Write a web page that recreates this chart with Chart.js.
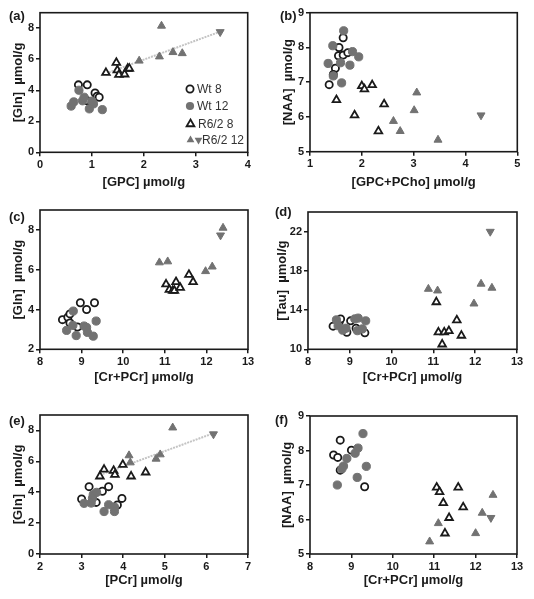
<!DOCTYPE html>
<html>
<head>
<meta charset="utf-8">
<script src="https://cdn.jsdelivr.net/npm/chart.js@4.4.0/dist/chart.umd.min.js"></script>
<style>
  body { margin: 0; background: #fff; width: 534px; height: 599px; position: relative; overflow: hidden;
         font-family: "Liberation Sans", Arial, sans-serif; }
  canvas { position: absolute; }
  .tag { position: absolute; font-weight: bold; font-size: 13px; line-height: 14px; color: #1a1a1a; }
</style>
</head>
<body>
<canvas id="chartA" width="265" height="195" style="left:0;top:0"></canvas>
<canvas id="chartB" width="269" height="195" style="left:265px;top:0"></canvas>
<canvas id="chartC" width="265" height="200" style="left:0;top:195px"></canvas>
<canvas id="chartD" width="269" height="200" style="left:265px;top:195px"></canvas>
<canvas id="chartE" width="265" height="204" style="left:0;top:395px"></canvas>
<canvas id="chartF" width="269" height="204" style="left:265px;top:395px"></canvas>
<div class="tag" style="left:9px;top:9px">(a)</div>
<div class="tag" style="left:280px;top:9px">(b)</div>
<div class="tag" style="left:9px;top:210px">(c)</div>
<div class="tag" style="left:275px;top:205px">(d)</div>
<div class="tag" style="left:9px;top:414px">(e)</div>
<div class="tag" style="left:275px;top:413px">(f)</div>
<script>
// (a) [Gln] vs [GPC]
const aWt8 = [[0.74,4.35],[0.91,4.35],[1.06,3.82],[1.1,3.62],[1.14,3.55],[0.91,3.32],[1.0,3.2]];
const aWt12 = [[0.6,2.98],[0.65,3.25],[0.75,4.0],[0.82,3.32],[0.85,3.55],[0.95,2.8],[1.03,3.12],[1.2,2.75],[1.0,3.3]];
const aR8 = [[1.27,5.13],[1.47,5.78],[1.49,5.3],[1.52,5.0],[1.63,5.03],[1.69,5.4],[1.72,5.4]];
const aR12 = [[1.91,5.9],[2.3,6.17],[2.34,8.15],[2.56,6.45],[2.74,6.38]];
const aR12inv = [[3.47,7.76]];
const aTrend = [[1.27,5.08],[3.47,7.78]];

// (b) [NAA] vs [GPC+PCho]
const bWt8 = [[1.37,6.93],[1.49,7.4],[1.56,8.0],[1.55,7.76],[1.64,8.28],[1.64,7.78],[1.73,7.85],[1.45,7.22]];
const bWt12 = [[1.35,7.54],[1.44,8.05],[1.45,7.18],[1.61,6.98],[1.59,7.56],[1.65,8.48],[1.82,7.88],[1.77,7.49],[1.94,7.73]];
const bR8 = [[1.51,6.49],[1.86,6.05],[2.0,6.89],[2.05,6.8],[2.2,6.92],[2.43,6.37],[2.32,5.59]];
const bR12 = [[2.61,5.88],[2.74,5.59],[3.01,6.19],[3.06,6.7],[3.47,5.34]];
const bR12inv = [[4.3,6.05]];

// (c) [Gln] vs [Cr+PCr]
const cWt8 = [[8.54,3.49],[8.67,3.61],[8.72,3.78],[8.72,3.32],[8.9,3.12],[8.97,4.34],[9.12,4.0],[9.31,4.34]];
const cWt12 = [[8.64,2.95],[8.79,3.2],[8.8,3.92],[8.87,2.69],[9.06,3.17],[9.12,3.1],[9.14,2.85],[9.28,2.66],[9.35,3.42]];
const cR8 = [[11.03,5.27],[11.11,5.0],[11.19,4.95],[11.23,4.95],[11.27,5.39],[11.37,5.1],[11.58,5.75],[11.68,5.39]];
const cR12 = [[10.87,6.36],[11.07,6.41],[11.98,5.92],[12.14,6.15],[12.4,8.1]];
const cR12inv = [[12.34,7.73]];

// (d) [Tau] vs [Cr+PCr]
const dWt8 = [[8.6,12.36],[8.75,12.84],[8.78,13.1],[8.93,11.74],[9.02,12.9],[9.15,12.15],[9.36,11.68]];
const dWt12 = [[8.68,13.0],[8.72,12.4],[8.83,11.95],[8.91,12.15],[9.12,13.1],[9.2,13.18],[9.18,11.9],[9.3,12.08],[9.38,12.9]];
const dR8 = [[11.07,14.82],[11.12,11.74],[11.21,10.51],[11.26,11.74],[11.37,11.88],[11.56,12.97],[11.67,11.4]];
const dR12 = [[10.88,16.15],[11.1,15.98],[11.97,14.65],[12.14,16.67],[12.4,16.26]];
const dR12inv = [[12.36,22.0]];

// (e) [Gln] vs [PCr]
const eWt8 = [[3.0,3.56],[3.18,4.36],[3.35,3.34],[3.5,4.06],[3.65,4.36],[3.86,3.17],[3.97,3.6]];
const eWt12 = [[3.06,3.28],[3.23,3.3],[3.26,3.6],[3.28,3.84],[3.36,3.99],[3.54,2.75],[3.65,3.19],[3.79,3.04],[3.79,2.75]];
const eR8 = [[3.44,5.03],[3.54,5.47],[3.77,5.4],[3.8,5.14],[3.99,5.79],[4.19,5.03],[4.54,5.29]];
const eR12 = [[4.14,6.38],[4.17,5.92],[4.79,6.16],[4.89,6.44],[5.19,8.18]];
const eR12inv = [[6.17,7.76]];
const eTrend = [[3.44,5.12],[6.17,7.82]];

// (f) [NAA] vs [Cr+PCr]
const fWt8 = [[8.57,7.87],[8.67,7.8],[8.73,8.3],[9.0,8.01],[8.73,7.43],[9.32,6.95]];
const fWt12 = [[9.28,8.49],[9.16,8.07],[9.09,7.92],[8.89,7.77],[8.81,7.55],[8.77,7.47],[9.36,7.54],[9.14,7.22],[8.66,7.0]];
const fR8 = [[11.06,6.93],[11.13,6.8],[11.22,6.48],[11.36,6.05],[11.26,5.6],[11.58,6.93],[11.7,6.36]];
const fR12 = [[10.89,5.36],[11.1,5.89],[12.0,5.6],[12.16,6.19],[12.42,6.71]];
const fR12inv = [[12.37,6.05]];

// axis ticks
const gpcTicks = [0, 1, 2, 3, 4];
const cholTicks = [1, 2, 3, 4, 5];
const crTicks = [8, 9, 10, 11, 12, 13];
const pcrTicks = [2, 3, 4, 5, 6, 7];
const glnTicks = [0, 2, 4, 6, 8];
const glnTicksC = [2, 4, 6, 8];
const naaTicks = [5, 6, 7, 8, 9];
const tauTicks = [10, 14, 18, 22];

const legendLabels = ['Wt 8', 'Wt 12', 'R6/2 8', 'R6/2 12'];

const FONT = '"Liberation Sans", Arial, sans-serif';
const INK = '#1a1a1a';
const GREY = '#727272';

function pts(arr) {
    return arr.map(p => ({ x: p[0], y: p[1] }));
}

function groups(wt8, wt12, r8, r12, r12inv, trend) {
    const sets = [
        { data: pts(r12inv), pointStyle: 'triangle', rotation: 180, radius: 4.6, backgroundColor: GREY, borderColor: GREY, borderWidth: 1 },
        { data: pts(r12), pointStyle: 'triangle', radius: 4.6, backgroundColor: GREY, borderColor: GREY, borderWidth: 1 },
        { data: pts(r8), pointStyle: 'triangle', radius: 4.4, backgroundColor: '#fff', borderColor: INK, borderWidth: 1.8 },
        { data: pts(wt12), pointStyle: 'circle', radius: 4.1, backgroundColor: GREY, borderColor: GREY, borderWidth: 1 },
        { data: pts(wt8), pointStyle: 'circle', radius: 3.6, backgroundColor: '#fff', borderColor: INK, borderWidth: 1.8 }
    ];
    if (trend) {
        sets.push({
            type: 'line', data: pts(trend), borderColor: '#c4c4c4', borderWidth: 2,
            borderDash: [2, 1], pointRadius: 0, fill: false
        });
    }
    return sets;
}

// draws the full frame round the plot area
const boxPlugin = {
    id: 'box',
    afterDatasetsDraw(chart) {
        const { ctx, chartArea: a } = chart;
        ctx.save();
        ctx.strokeStyle = INK;
        ctx.lineWidth = 1.6;
        ctx.strokeRect(a.left, a.top, a.right - a.left, a.bottom - a.top);
        ctx.restore();
    }
};

// legend inside panel (a)
const legendPlugin = {
    id: 'innerLegend',
    afterDraw(chart) {
        const ctx = chart.ctx;
        const rows = [89, 106, 124, 140];
        ctx.save();
        ctx.font = '12px ' + FONT;
        ctx.textBaseline = 'middle';
        ctx.fillStyle = '#333';
        legendLabels.forEach((label, i) => {
            const y = rows[i];
            ctx.beginPath();
            if (i < 2) {
                ctx.arc(190, y, i === 0 ? 3.6 : 4.1, 0, Math.PI * 2);
            } else {
                tri(ctx, 190.5, y, 4.5, false);
            }
            if (i === 0 || i === 2) {
                ctx.fillStyle = '#fff';
                ctx.fill();
                ctx.lineWidth = 1.8;
                ctx.strokeStyle = INK;
                ctx.stroke();
            } else {
                ctx.fillStyle = GREY;
                ctx.fill();
            }
            let tx = 197;
            if (i === 2) tx = 198;
            if (i === 3) {
                ctx.beginPath();
                tri(ctx, 198.5, y, 4.5, true);
                ctx.fillStyle = GREY;
                ctx.fill();
                tx = 202;
            }
            ctx.fillStyle = '#333';
            ctx.fillText(label, tx, y + 0.5);
        });
        ctx.restore();
    }
};

function tri(ctx, x, y, r, down) {
    const s = down ? -1 : 1;
    ctx.moveTo(x, y - s * r);
    ctx.lineTo(x + Math.sin(Math.PI * 2 / 3) * r, y + s * r / 2);
    ctx.lineTo(x - Math.sin(Math.PI * 2 / 3) * r, y + s * r / 2);
    ctx.closePath();
}

function axis(range, tickList, title, extra) {
    return Object.assign({
        type: 'linear',
        min: range[0],
        max: range[1],
        afterBuildTicks: (s) => { s.ticks = tickList.map(v => ({ value: v })); },
        grid: { drawOnChartArea: false, drawTicks: true, tickLength: 4, color: INK, lineWidth: 1.5 },
        border: { display: false },
        ticks: { color: INK, padding: 2, autoSkip: false, maxRotation: 0, font: { family: FONT, size: 11, weight: 'bold' } },
        title: { display: true, text: title, color: INK, font: { family: FONT, size: 13, weight: 'bold' } }
    }, extra);
}

// geometry: canvas box and wanted plot area (page pixels)
function makePanel(id, geo, datasets, xAxis, yAxis, plugins) {
    const lh = 13 * 1.2;
    const xH = geo.xTitle + lh / 2 + 4 - geo.plot[3];
    const yW = geo.plot[0] - geo.left;
    xAxis.afterFit = (s) => { s.height = xH; };
    xAxis.title.padding = { top: 0, bottom: 4 };
    yAxis.afterFit = (s) => { s.width = yW; };
    yAxis.title.padding = { top: geo.yTitle - geo.left - lh / 2, bottom: 0 };
    new Chart(document.getElementById(id), {
        type: 'scatter',
        data: { datasets: datasets },
        options: {
            responsive: false,
            animation: false,
            devicePixelRatio: 1,
            layout: {
                autoPadding: false,
                padding: {
                    left: 0,
                    top: geo.plot[1] - geo.top,
                    right: geo.left + geo.w - geo.plot[2],
                    bottom: geo.top + geo.h - geo.plot[3] - xH
                }
            },
            plugins: { legend: { display: false }, tooltip: { enabled: false } },
            scales: { x: xAxis, y: yAxis }
        },
        plugins: [boxPlugin].concat(plugins || [])
    });
}

makePanel('chartA', { left: 0, top: 0, w: 265, h: 195, plot: [40, 12.7, 247.7, 152.3], xTitle: 182, yTitle: 18 },
    groups(aWt8, aWt12, aR8, aR12, aR12inv, aTrend),
    axis([0, 4], gpcTicks, '[GPC] µmol/g'), axis([0, 9], glnTicks, '[Gln]  µmol/g'), [legendPlugin]);

makePanel('chartB', { left: 265, top: 0, w: 269, h: 195, plot: [310, 12.7, 517.3, 151.7], xTitle: 182, yTitle: 288 },
    groups(bWt8, bWt12, bR8, bR12, bR12inv),
    axis([1, 5], cholTicks, '[GPC+PCho] µmol/g'), axis([5, 9], naaTicks, '[NAA]  µmol/g'));

makePanel('chartC', { left: 0, top: 195, w: 265, h: 200, plot: [40, 210, 248, 349.3], xTitle: 377, yTitle: 18 },
    groups(cWt8, cWt12, cR8, cR12, cR12inv),
    axis([8, 13], crTicks, '[Cr+PCr] µmol/g'), axis([2, 9], glnTicksC, '[Gln]  µmol/g'));

makePanel('chartD', { left: 265, top: 195, w: 269, h: 200, plot: [308, 212, 517, 349.3], xTitle: 377, yTitle: 282 },
    groups(dWt8, dWt12, dR8, dR12, dR12inv),
    axis([8, 13], crTicks, '[Cr+PCr] µmol/g'), axis([10, 24], tauTicks, '[Tau]  µmol/g'));

makePanel('chartE', { left: 0, top: 395, w: 265, h: 204, plot: [40, 415, 248, 554], xTitle: 580, yTitle: 18 },
    groups(eWt8, eWt12, eR8, eR12, eR12inv, eTrend),
    axis([2, 7], pcrTicks, '[PCr] µmol/g'), axis([0, 9], glnTicks, '[Gln]  µmol/g'));

makePanel('chartF', { left: 265, top: 395, w: 269, h: 204, plot: [310, 416, 517, 554], xTitle: 580, yTitle: 287 },
    groups(fWt8, fWt12, fR8, fR12, fR12inv),
    axis([8, 13], crTicks, '[Cr+PCr] µmol/g'), axis([5, 9], naaTicks, '[NAA]  µmol/g'));
</script>
</body>
</html>
